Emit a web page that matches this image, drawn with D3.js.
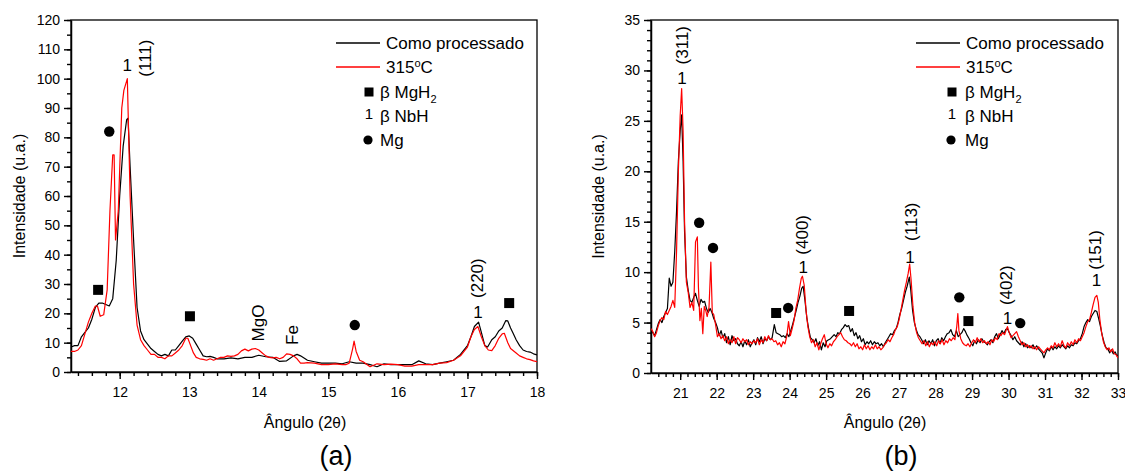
<!doctype html>
<html>
<head>
<meta charset="utf-8"/>
<title>DRX</title>
<script src="https://d3js.org/d3.v7.min.js"></script>
<style>
  body { margin: 0; background: #fff; }
  svg { font-family: "Liberation Sans", Arial, sans-serif; display: block; }
  .axis .domain { stroke: #000; stroke-width: 1.5; }
  .axis line { stroke: #000; stroke-width: 1.4; }
  .axis text { font-size: 14px; fill: #000; }
  .frame { fill: none; stroke: #000; stroke-width: 1.3; }
  .leg { font-size: 17px; }
  .ann { font-size: 17px; }
</style>
</head>
<body>
<svg width="1125" height="473"></svg>
<script>
// ---- panel (a): 11.3 - 18 graus ----
const blackA = [[11.30,8.5],[11.35,9],[11.40,9],[11.45,12],[11.50,13.5],[11.55,15],[11.60,18],[11.65,22],
  [11.70,23.5],[11.75,23.5],[11.80,23],[11.85,22.5],[11.90,25],[11.95,38],[12.00,60],[12.05,77],[12.10,86],
  [12.12,86.5],[12.15,70],[12.20,45],[12.25,22],[12.30,14],[12.35,11],[12.40,9.5],[12.45,8],[12.50,7],
  [12.55,6],[12.60,5.5],[12.65,6],[12.70,5.5],[12.75,7.5],[12.80,7.5],[12.85,9],[12.90,10.5],[12.95,12],
  [13.00,12.3],[13.05,11.5],[13.10,9.5],[13.15,7.5],[13.20,5.5],[13.25,5.2],[13.30,5.3],[13.35,5],[13.40,4.5],
  [13.50,4.5],[13.60,4.8],[13.70,4.5],[13.80,5],[13.90,5],[14.00,5.7],[14.10,5.2],[14.20,5],[14.30,3.6],
  [14.40,3.8],[14.50,5.5],[14.55,6],[14.60,5.5],[14.70,4],[14.80,3.5],[14.90,3],[15.00,3],[15.10,3],
  [15.20,2.8],[15.30,3.5],[15.40,3],[15.50,3],[15.60,2.5],[15.70,1.8],[15.80,2.8],[15.90,2.5],[16.00,2.5],
  [16.10,2.5],[16.20,2.5],[16.30,3.8],[16.40,2.8],[16.50,2.5],[16.60,3],[16.70,3.5],[16.80,4],[16.90,6],
  [17.00,9],[17.05,12],[17.10,15.5],[17.16,17],[17.20,13.5],[17.25,9],[17.29,8.5],[17.35,11],[17.40,12],
  [17.45,14],[17.50,15],[17.55,17.5],[17.58,17.4],[17.62,15],[17.66,13],[17.70,11],[17.75,9],[17.80,7.5],
  [17.85,7],[17.90,6.8],[17.95,6.2],[18.00,5.8]];

const redA = [[11.30,7],[11.35,7],[11.40,7.5],[11.45,9],[11.50,13],[11.55,17],[11.60,20],[11.65,22.5],
  [11.68,22.5],[11.72,19],[11.77,19.5],[11.82,28],[11.86,55],[11.90,74],[11.92,74],[11.94,45],[11.98,55],
  [12.03,90],[12.06,96],[12.11,100],[12.15,60],[12.20,30],[12.25,16],[12.30,11],[12.35,9],[12.40,7.5],
  [12.45,6],[12.50,6],[12.55,5],[12.60,5],[12.65,4.5],[12.70,5.5],[12.75,5.5],[12.80,6.5],[12.85,7.5],
  [12.90,9],[12.95,11.5],[12.98,11.5],[13.02,9],[13.06,6.5],[13.10,5],[13.15,4.5],[13.20,4.3],[13.25,4],
  [13.30,4.5],[13.35,4],[13.40,4.5],[13.45,5],[13.50,5],[13.55,5.5],[13.60,5.3],[13.65,5.5],[13.70,6],
  [13.75,7.2],[13.80,7.8],[13.85,7.2],[13.90,7.8],[13.95,8],[14.00,7.5],[14.05,6.5],[14.10,5.5],[14.15,5],
  [14.20,4.8],[14.25,5],[14.30,4.5],[14.35,5],[14.40,6.2],[14.45,6],[14.50,5.5],[14.55,4.5],[14.60,3],
  [14.65,3],[14.70,3.2],[14.80,3],[14.90,2.5],[15.00,2.5],[15.10,2.8],[15.20,2.5],[15.25,2.5],[15.30,3],
  [15.35,8],[15.37,10.5],[15.40,7],[15.45,4],[15.50,3.5],[15.60,1.8],[15.70,2.8],[15.80,2.5],[15.90,2.7],
  [16.00,2.5],[16.10,2],[16.20,2],[16.30,2.5],[16.40,2.5],[16.50,2.5],[16.60,3],[16.70,3.2],[16.80,4],
  [16.90,5.5],[17.00,8.5],[17.05,12],[17.10,14.5],[17.15,15.5],[17.20,12],[17.25,9],[17.30,7.5],[17.35,7.3],
  [17.40,9],[17.45,11.5],[17.50,13],[17.53,13.2],[17.58,10],[17.62,8],[17.70,6.5],[17.75,5.5],[17.80,5],
  [17.85,4.5],[17.90,4.2],[17.95,3.8],[18.00,3.5]];

const squaresA = [[11.69,28],[13.01,19],[17.6,23.5]];
const circlesA = [[11.85,82],[15.38,16]];
const onesA = [[12.11,104.7],[17.15,20.5]];
const rotLabelsA = [["(111)",12.36,107],["MgO",13.99,16.7],["Fe",14.48,12.6],["(220)",17.14,32]];

// ---- panel (b): 20.2 - 33 graus ----
const blackB = [[20.2,4.2],[20.25,4.0],[20.3,3.7],[20.35,4.3],[20.4,4.9],[20.45,5.3],[20.5,5.0],[20.55,5.6],
  [20.6,6.0],[20.65,6.4],[20.7,9.4],[20.75,8.6],[20.8,9.0],[20.85,12],[20.9,16],[20.95,21],[21.0,24],
  [21.04,25.6],[21.08,21],[21.12,14],[21.17,9.5],[21.22,8.2],[21.27,7.2],[21.32,7.0],[21.37,7.5],[21.42,7.9],
  [21.47,7.2],[21.52,6.6],[21.57,7.3],[21.62,7.0],[21.67,7.1],[21.72,6.4],[21.77,6.0],[21.82,6.4],[21.87,6.0],
  [21.92,5.4],[21.97,5.0],[22.02,4.5],[22.07,3.7],[22.12,4.2],[22.17,3.5],[22.22,3.9],[22.27,3.0],[22.32,3.6],
  [22.37,2.8],[22.42,3.7],[22.47,3.2],[22.52,3.4],[22.57,2.9],[22.62,2.7],[22.67,3.1],[22.72,2.6],[22.77,3.2],
  [22.82,2.8],[22.87,3.3],[22.92,2.6],[22.97,3.0],[23.02,3.3],[23.07,2.8],[23.12,3.5],[23.17,3.1],[23.22,3.6],
  [23.27,2.9],[23.32,3.4],[23.37,3.2],[23.42,3.6],[23.47,3.3],[23.52,3.5],[23.58,4.8],[23.63,4.0],[23.68,3.9],
  [23.73,3.8],[23.78,3.6],[23.83,3.7],[23.88,3.5],[23.93,3.9],[23.98,3.6],[24.03,4.2],[24.08,4.8],[24.13,5.5],
  [24.18,6.2],[24.23,7.0],[24.28,7.6],[24.33,8.4],[24.37,8.6],[24.42,7.2],[24.47,5.5],[24.52,4.4],[24.57,3.5],
  [24.62,3.3],[24.67,3.0],[24.72,3.4],[24.77,2.7],[24.82,3.1],[24.87,2.3],[24.92,3.0],[24.97,2.6],[25.02,3.2],
  [25.07,3.3],[25.12,3.4],[25.17,3.6],[25.22,3.8],[25.27,3.6],[25.32,4.0],[25.37,3.9],[25.42,4.3],[25.47,4.5],
  [25.52,4.8],[25.57,4.6],[25.62,4.7],[25.67,4.1],[25.72,4.4],[25.77,3.7],[25.82,4.0],[25.87,3.4],[25.92,3.7],
  [25.97,3.1],[26.02,3.4],[26.07,2.8],[26.12,3.1],[26.17,2.9],[26.22,3.2],[26.27,2.8],[26.32,3.1],[26.37,2.9],
  [26.42,3.0],[26.47,2.7],[26.52,2.9],[26.57,2.6],[26.62,3.0],[26.67,3.3],[26.72,3.6],[26.77,3.9],[26.82,3.8],
  [26.87,4.2],[26.92,4.4],[26.97,5.0],[27.02,5.8],[27.07,6.4],[27.12,7.2],[27.17,8.0],[27.22,8.6],[27.28,9.5],
  [27.32,8.2],[27.37,6.2],[27.42,5.0],[27.47,4.3],[27.52,3.8],[27.57,3.6],[27.62,3.3],[27.67,2.9],[27.72,3.3],
  [27.77,2.8],[27.82,3.2],[27.87,2.9],[27.92,3.3],[27.97,2.7],[28.02,3.2],[28.07,3.4],[28.12,2.9],[28.17,3.5],
  [28.22,3.2],[28.27,3.6],[28.32,3.9],[28.37,4.0],[28.42,4.3],[28.47,3.8],[28.52,3.6],[28.57,4.2],[28.62,3.6],
  [28.67,3.8],[28.72,4.0],[28.77,4.4],[28.82,4.1],[28.87,3.7],[28.92,3.4],[28.97,3.0],[29.02,2.7],[29.07,3.2],
  [29.12,2.9],[29.17,3.3],[29.22,3.0],[29.27,3.4],[29.32,3.1],[29.37,3.0],[29.42,2.8],[29.47,3.1],[29.52,3.3],
  [29.57,3.0],[29.62,3.6],[29.67,3.9],[29.72,3.4],[29.77,3.8],[29.82,4.2],[29.87,3.9],[29.92,4.3],[29.97,4.4],
  [30.02,4.0],[30.07,3.7],[30.12,3.3],[30.17,3.6],[30.22,3.2],[30.27,3.0],[30.32,2.8],[30.37,3.1],[30.42,2.6],
  [30.47,2.9],[30.52,2.5],[30.57,2.7],[30.62,2.5],[30.67,2.8],[30.72,2.4],[30.77,2.7],[30.82,2.4],[30.87,2.2],
  [30.92,2.0],[30.97,1.5],[31.02,2.0],[31.07,2.4],[31.12,2.2],[31.17,2.6],[31.22,2.3],[31.27,2.6],[31.32,2.4],
  [31.37,2.7],[31.42,2.5],[31.47,2.8],[31.52,2.6],[31.57,2.4],[31.62,2.7],[31.67,2.5],[31.72,2.8],[31.77,2.7],
  [31.82,3.0],[31.87,2.9],[31.92,3.2],[31.97,3.4],[32.02,3.9],[32.07,4.6],[32.12,5.0],[32.17,5.3],[32.22,5.1],
  [32.27,5.6],[32.32,5.9],[32.37,6.2],[32.42,6.1],[32.47,5.4],[32.52,4.6],[32.57,3.7],[32.62,3.0],[32.67,2.5],
  [32.72,2.4],[32.77,2.0],[32.82,2.3],[32.87,1.9],[32.92,2.1],[32.97,1.7],[33.0,1.8]];

const redB = [[20.2,4.4],[20.25,4.1],[20.3,3.6],[20.35,4.0],[20.4,4.7],[20.45,5.2],[20.5,5.5],[20.55,5.3],
  [20.6,6.1],[20.65,5.8],[20.7,6.2],[20.75,6.6],[20.8,7.2],[20.85,6.5],[20.9,12],[20.95,20],[21.0,25.5],
  [21.04,28.2],[21.08,24],[21.12,15],[21.17,9.0],[21.22,8.0],[21.27,6.5],[21.32,7.0],[21.37,6.2],[21.42,13.0],
  [21.47,13.5],[21.5,8.5],[21.54,5.2],[21.58,6.4],[21.62,3.9],[21.66,6.6],[21.7,6.2],[21.74,5.6],[21.79,6.5],
  [21.84,11.0],[21.88,6.0],[21.92,5.8],[21.97,4.8],[22.02,3.6],[22.07,3.9],[22.12,3.4],[22.17,3.7],[22.22,3.2],
  [22.27,3.6],[22.32,2.9],[22.37,3.3],[22.42,3.0],[22.47,3.6],[22.52,2.9],[22.57,3.5],[22.62,3.3],[22.67,3.0],
  [22.72,3.4],[22.77,3.1],[22.82,3.3],[22.87,2.8],[22.92,3.1],[22.97,2.9],[23.02,3.2],[23.07,3.0],[23.12,3.4],
  [23.17,2.8],[23.22,3.3],[23.27,3.0],[23.32,3.6],[23.37,3.2],[23.42,3.7],[23.47,3.3],[23.52,3.4],[23.57,3.1],
  [23.62,3.2],[23.67,2.8],[23.72,3.0],[23.77,2.6],[23.82,3.1],[23.87,2.9],[23.92,3.6],[23.97,5.1],[24.02,3.7],
  [24.07,4.4],[24.12,5.2],[24.17,6.4],[24.22,7.2],[24.27,8.4],[24.32,9.4],[24.35,9.6],[24.4,8.7],[24.45,6.2],
  [24.5,4.6],[24.55,3.6],[24.6,3.0],[24.65,3.3],[24.7,2.6],[24.75,3.0],[24.8,2.3],[24.85,2.9],[24.9,3.4],
  [24.95,3.8],[25.0,2.9],[25.05,2.5],[25.1,2.9],[25.15,2.7],[25.2,3.1],[25.25,3.3],[25.3,3.6],[25.35,3.8],
  [25.4,4.0],[25.45,3.6],[25.5,3.3],[25.55,3.2],[25.6,3.0],[25.65,2.9],[25.7,2.7],[25.75,3.0],[25.8,2.6],
  [25.85,2.9],[25.9,2.4],[25.95,2.6],[26.0,2.3],[26.05,2.8],[26.1,2.4],[26.15,2.7],[26.2,2.3],[26.25,2.6],
  [26.3,2.4],[26.35,2.8],[26.4,2.4],[26.45,2.6],[26.5,2.3],[26.55,2.5],[26.6,2.8],[26.65,3.0],[26.7,3.3],
  [26.75,3.1],[26.8,3.5],[26.85,3.8],[26.9,4.3],[26.95,4.6],[27.0,5.3],[27.05,6.2],[27.1,7.2],[27.15,8.2],
  [27.2,9.0],[27.25,9.9],[27.29,10.8],[27.33,9.2],[27.38,6.6],[27.43,4.9],[27.48,4.0],[27.53,3.5],[27.58,3.2],
  [27.63,2.9],[27.68,3.2],[27.73,2.7],[27.78,3.1],[27.83,2.6],[27.88,3.0],[27.93,2.8],[27.98,3.1],[28.03,2.7],
  [28.08,3.2],[28.13,2.9],[28.18,3.3],[28.23,2.8],[28.28,3.2],[28.33,3.0],[28.38,3.4],[28.43,3.2],[28.48,3.5],
  [28.53,3.3],[28.58,4.6],[28.61,5.9],[28.64,4.2],[28.69,3.4],[28.74,3.0],[28.79,2.8],[28.84,2.7],[28.89,2.9],
  [28.94,2.6],[28.99,3.0],[29.04,3.3],[29.09,3.0],[29.14,3.5],[29.19,3.1],[29.24,3.4],[29.29,3.0],[29.34,3.2],
  [29.39,2.9],[29.44,3.1],[29.49,2.8],[29.54,3.3],[29.59,3.1],[29.64,3.5],[29.69,3.3],[29.74,3.9],[29.79,3.7],
  [29.84,4.0],[29.89,3.8],[29.94,4.3],[29.97,4.6],[30.02,4.0],[30.07,3.5],[30.12,3.7],[30.17,3.9],[30.22,4.1],
  [30.27,3.6],[30.32,3.2],[30.37,2.8],[30.42,3.0],[30.47,2.6],[30.52,2.8],[30.57,2.5],[30.62,2.7],[30.67,2.4],
  [30.72,2.6],[30.77,2.3],[30.82,2.6],[30.87,2.4],[30.92,2.2],[30.97,2.0],[31.02,2.3],[31.07,2.5],[31.12,2.3],
  [31.17,2.7],[31.22,2.5],[31.27,3.0],[31.32,2.6],[31.37,2.9],[31.42,2.6],[31.47,3.2],[31.52,2.7],[31.57,2.5],
  [31.62,3.0],[31.67,2.7],[31.72,3.1],[31.77,2.8],[31.82,3.3],[31.87,3.0],[31.92,3.4],[31.97,3.2],[32.02,3.6],
  [32.07,4.0],[32.12,4.6],[32.17,5.1],[32.22,5.3],[32.27,6.0],[32.32,6.8],[32.37,7.5],[32.42,7.7],[32.46,7.0],
  [32.5,5.4],[32.55,4.0],[32.6,3.1],[32.65,2.6],[32.7,2.3],[32.75,2.5],[32.8,2.1],[32.85,2.4],[32.9,1.9],
  [32.95,1.8],[33.0,1.5]];

const squaresB = [[23.63,5.95],[25.63,6.15],[28.9,5.15]];
const circlesB = [[21.52,14.9],[21.9,12.4],[23.96,6.45],[28.65,7.5],[30.32,4.95]];
const onesB = [[21.05,29.2],[24.37,10.5],[27.3,11.5],[29.97,5.45],[32.41,9.2]];
const rotLabelsB = [["(311)",21.05,32.5],["(400)",24.34,13.7],["(113)",27.33,15],["(402)",29.94,8.7],["(151)",32.38,12.2]];

const seriesNames = ["Como processado", "315°C"];
const seriesColors = ["#000000", "#ff0000"];

const svg = d3.select("svg");
svg.append("rect").attr("width", 1125).attr("height", 473).attr("fill", "#fff");

function panel(o) {
  const x = d3.scaleLinear().domain(o.xDom).range([o.left, o.right]);
  const y = d3.scaleLinear().domain(o.yDom).range([o.bottom, o.top]);
  const g = svg.append("g");

  g.append("clipPath").attr("id", o.id)
    .append("rect").attr("x", o.left).attr("y", o.top)
    .attr("width", o.right - o.left).attr("height", o.bottom - o.top);

  // minor ticks
  g.append("g").attr("class", "axis")
    .attr("transform", "translate(0," + o.bottom + ")")
    .call(d3.axisBottom(x).tickValues(o.xMinor).tickSize(4).tickSizeOuter(0).tickFormat(""))
    .select(".domain").remove();
  g.append("g").attr("class", "axis")
    .attr("transform", "translate(" + o.left + ",0)")
    .call(d3.axisLeft(y).tickValues(o.yMinor).tickSize(4).tickSizeOuter(0).tickFormat(""))
    .select(".domain").remove();

  // major ticks
  g.append("g").attr("class", "axis")
    .attr("transform", "translate(0," + o.bottom + ")")
    .call(d3.axisBottom(x).tickValues(o.xMajor).tickSize(7).tickSizeOuter(0).tickPadding(8).tickFormat(d3.format("d")));
  g.append("g").attr("class", "axis")
    .attr("transform", "translate(" + o.left + ",0)")
    .call(d3.axisLeft(y).tickValues(o.yMajor).tickSize(7).tickSizeOuter(0).tickPadding(4).tickFormat(d3.format("d")));

  g.append("rect").attr("class", "frame")
    .attr("x", o.left).attr("y", o.top)
    .attr("width", o.right - o.left).attr("height", o.bottom - o.top);

  const line = d3.line().x(d => x(d[0])).y(d => y(d[1]));
  const plot = g.append("g").attr("clip-path", "url(#" + o.id + ")");
  o.series.forEach((s, i) => {
    plot.append("path").datum(s)
      .attr("fill", "none").attr("stroke", seriesColors[i])
      .attr("stroke-width", 1.2).attr("stroke-linejoin", "round")
      .attr("d", line);
  });

  // phase markers
  g.selectAll(null).data(o.squares).join("rect")
    .attr("x", d => x(d[0]) - 5).attr("y", d => y(d[1]) - 5)
    .attr("width", 10).attr("height", 10).attr("fill", "#000");
  g.selectAll(null).data(o.circles).join("circle")
    .attr("cx", d => x(d[0])).attr("cy", d => y(d[1])).attr("r", 5.2).attr("fill", "#000");
  g.selectAll(null).data(o.ones).join("text").attr("class", "ann")
    .attr("x", d => x(d[0])).attr("y", d => y(d[1])).attr("dy", "0.35em")
    .attr("text-anchor", "middle").text("1");
  g.selectAll(null).data(o.rot).join("text").attr("class", "ann")
    .attr("transform", d => "translate(" + x(d[1]) + "," + y(d[2]) + ") rotate(-90)")
    .attr("dy", "0.35em").attr("text-anchor", "middle").text(d => d[0]);

  // legend
  const lx = o.left + 265, rows = [43, 67, 92, 116, 140];
  seriesNames.forEach((n, i) => {
    g.append("line").attr("x1", lx).attr("x2", lx + 44)
      .attr("y1", rows[i]).attr("y2", rows[i])
      .attr("stroke", seriesColors[i]).attr("stroke-width", i ? 1.6 : 1.3);
  });
  g.append("text").attr("class", "leg").attr("x", lx + 50).attr("y", rows[0]).attr("dy", "0.35em").text(seriesNames[0]);
  const t2 = g.append("text").attr("class", "leg").attr("x", lx + 50).attr("y", rows[1] + 6);
  t2.append("tspan").text("315");
  t2.append("tspan").attr("font-size", 11).attr("dy", -6).text("o");
  t2.append("tspan").attr("dy", 6).text("C");

  const sx = o.left + o.symX, tx = o.left + o.symTextX;
  g.append("rect").attr("x", sx - 4.5).attr("y", rows[2] - 4.5).attr("width", 9).attr("height", 9);
  const t3 = g.append("text").attr("class", "leg").attr("x", tx).attr("y", rows[2] + 6);
  t3.append("tspan").text("β MgH");
  t3.append("tspan").attr("font-size", 11).attr("dy", 5).text("2");
  g.append("text").attr("class", "leg").attr("x", sx).attr("y", rows[3] - 2).attr("dy", "0.35em")
    .attr("text-anchor", "middle").style("font-size", "15px").text("1");
  g.append("text").attr("class", "leg").attr("x", tx).attr("y", rows[3]).attr("dy", "0.35em").text("β NbH");
  g.append("circle").attr("cx", sx - 1).attr("cy", rows[4]).attr("r", 4.6);
  g.append("text").attr("class", "leg").attr("x", tx).attr("y", rows[4]).attr("dy", "0.35em").text("Mg");

  // axis titles
  g.append("text").attr("transform", "translate(" + o.yTitleX + "," + ((o.top + o.bottom) / 2) + ") rotate(-90)")
    .attr("text-anchor", "middle").attr("dy", "0.35em").style("font-size", "16px").text("Intensidade (u.a.)");
  const xt = g.append("text").attr("x", o.xTitleX).attr("y", 428)
    .attr("text-anchor", "middle").style("font-size", "16px");
  xt.append("tspan").text("Ângulo (2");
  xt.append("tspan").style("font-family", "'DejaVu Sans'").style("font-size", "14px").text("θ");
  xt.append("tspan").text(")");
  g.append("text").attr("x", o.tagX).attr("y", 465).attr("text-anchor", "middle")
    .style("font-size", "27px").text(o.tag);
}

panel({
  id: "clipA", left: 71, right: 537, top: 20, bottom: 372,
  xDom: [11.3, 18], yDom: [0, 120],
  xMajor: d3.range(12, 18.01, 1), xMinor: d3.range(11.4, 18.01, 0.2),
  yMajor: d3.range(0, 120.1, 10), yMinor: d3.range(0, 120.1, 5),
  series: [blackA, redA], squares: squaresA, circles: circlesA, ones: onesA, rot: rotLabelsA,
  symX: 298, symTextX: 309, yTitleX: 19, xTitleX: 305, tagX: 336, tag: "(a)"
});

panel({
  id: "clipB", left: 651, right: 1118, top: 20, bottom: 373,
  xDom: [20.2, 33], yDom: [0, 35],
  xMajor: d3.range(21, 33.01, 1), xMinor: d3.range(20.4, 33.01, 0.2),
  yMajor: d3.range(0, 35.1, 5), yMinor: d3.range(0, 35.1, 1),
  series: [blackB, redB], squares: squaresB, circles: circlesB, ones: onesB, rot: rotLabelsB,
  symX: 301, symTextX: 314, yTitleX: 598, xTitleX: 885, tagX: 901, tag: "(b)"
});
</script>
</body>
</html>
